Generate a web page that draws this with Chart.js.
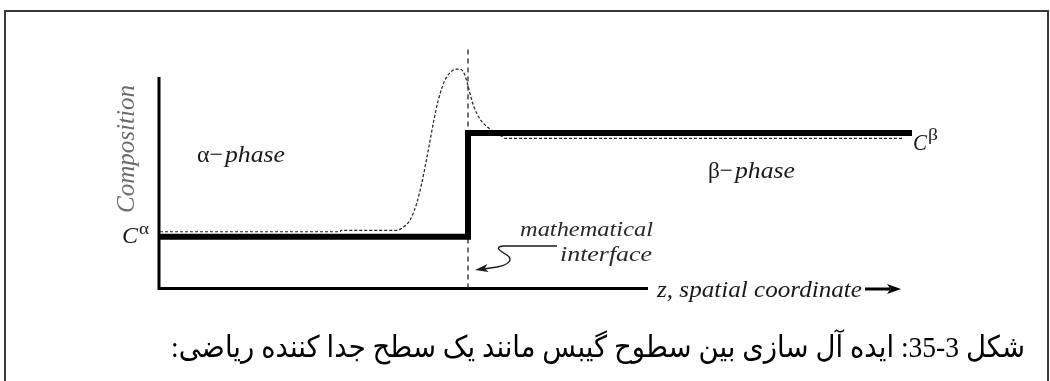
<!DOCTYPE html>
<html lang="fa">
<head>
  <meta charset="UTF-8" />
  <title>Composition profile across a mathematical interface</title>
  <script src="https://cdn.jsdelivr.net/npm/chart.js@4.4.0/dist/chart.umd.min.js"></script>
  <style>
    html, body { margin: 0; padding: 0; background: #fff; }
    #wrap { position: relative; width: 1050px; height: 381px; }
  </style>
</head>
<body>
  <div id="wrap"><canvas id="profile"></canvas></div>
  <script>
    // real composition profile (dashed): z = spatial coordinate, c = composition
    const zProfile = [-3.08, -1.28, -1.27, -0.71, -0.663, -0.58, -0.513, -0.463, -0.397, -0.347,
                      -0.297, -0.23, -0.147, -0.097, -0.047, 0.003, 0.037, 0.087, 0.153, 0.22,
                      0.29, 0.35, 0.37, 4.35];
    const cProfile = [1.048, 1.048, 1.062, 1.062, 1.081, 1.161, 1.322, 1.515, 1.836, 2.094,
                      2.318, 2.511, 2.607, 2.617, 2.591, 2.446, 2.318, 2.19, 2.094, 2.039,
                      2.0, 1.961, 1.949, 1.949];

    // idealised step profile: C-alpha on the left, C-beta on the right
    const zStep = [-3.1, 0, 0, 4.44];
    const cStep = [1, 1, 2, 2];

    // the mathematical interface sits at z = 0
    const zInterface = [0, 0];
    const cInterface = [0.5, 2.81];

    // axis extents (composition axis top, z axis end)
    const zRange = [-3.09, 4.44];
    const cRange = [0.5, 2.9];
    const cAxisTop = 2.54;
    const zAxisEnd = 1.8;

    const caption = 'شکل 3-35: ایده آل سازی بین سطوح گیبس مانند یک سطح جدا کننده ریاضی:';

    const pts = (xs, ys) => xs.map((x, i) => ({ x: x, y: ys[i] }));

    const serif = '"Liberation Serif", serif';

    // draw a string squeezed/stretched to a given width
    function fitText(ctx, s, x, y, w, font, color, align) {
      ctx.save();
      ctx.font = font;
      ctx.fillStyle = color;
      ctx.textBaseline = 'alphabetic';
      ctx.textAlign = align || 'left';
      const m = ctx.measureText(s).width;
      ctx.translate(x, y);
      ctx.scale(w ? w / m : 1, 1);
      ctx.fillText(s, 0, 0);
      ctx.restore();
    }

    function arrowHead(ctx, tipX, tipY, backX, backY, half) {
      const a = Math.atan2(tipY - backY, tipX - backX);
      const len = Math.hypot(tipX - backX, tipY - backY);
      ctx.save();
      ctx.translate(tipX, tipY);
      ctx.rotate(a);
      ctx.beginPath();
      ctx.moveTo(0, 0);
      ctx.lineTo(-len, -half);
      ctx.lineTo(-len * 0.75, 0);
      ctx.lineTo(-len, half);
      ctx.closePath();
      ctx.fill();
      ctx.restore();
    }

    const decor = {
      id: 'decor',
      beforeDatasetsDraw(chart) {
        const ctx = chart.ctx;
        const xs = chart.scales.x, ys = chart.scales.y;
        const x0 = xs.getPixelForValue(zRange[0]);
        const yb = ys.getPixelForValue(cRange[0]);

        // page frame
        ctx.save();
        ctx.strokeStyle = '#3a3a3a';
        ctx.lineWidth = 2;
        ctx.beginPath();
        ctx.moveTo(5, 400);
        ctx.lineTo(5, 11);
        ctx.lineTo(1048, 11);
        ctx.lineTo(1048, 400);
        ctx.stroke();

        // axes
        ctx.strokeStyle = '#000';
        ctx.lineWidth = 3;
        ctx.lineCap = 'butt';
        ctx.beginPath();
        ctx.moveTo(x0, ys.getPixelForValue(cAxisTop));
        ctx.lineTo(x0, yb);
        ctx.lineTo(xs.getPixelForValue(zAxisEnd), yb);
        ctx.stroke();
        ctx.restore();
      },
      afterDatasetsDraw(chart) {
        const ctx = chart.ctx;
        const ink = '#1a1a1a';

        // y axis title
        ctx.save();
        ctx.translate(134, 149);
        ctx.rotate(-Math.PI / 2);
        fitText(ctx, 'Composition', 0, 0, 128, 'italic 26px ' + serif, '#6b6b6b', 'center');
        ctx.restore();

        // phase labels
        fitText(ctx, 'α−', 197, 162, 26, '24px ' + serif, ink);
        fitText(ctx, 'phase', 225, 162, 60, 'italic 24px ' + serif, ink);
        fitText(ctx, 'β−', 708, 178, 25, '24px ' + serif, ink);
        fitText(ctx, 'phase', 735, 178, 60, 'italic 24px ' + serif, ink);

        // C-alpha / C-beta
        fitText(ctx, 'C', 122, 243, 16, 'italic 23px ' + serif, ink);
        fitText(ctx, 'α', 139, 234, 10, '16px ' + serif, ink);
        fitText(ctx, 'C', 913, 150, 14, 'italic 23px ' + serif, ink);
        fitText(ctx, 'β', 928, 140, 10, '16px ' + serif, ink);

        // interface note with curly pointer
        fitText(ctx, 'mathematical', 653, 236, 133, 'italic 22px ' + serif, '#2a2a2a', 'right');
        fitText(ctx, 'interface', 652, 261, 92, 'italic 22px ' + serif, '#2a2a2a', 'right');
        ctx.save();
        ctx.strokeStyle = ink;
        ctx.fillStyle = ink;
        ctx.lineWidth = 1.4;
        ctx.beginPath();
        ctx.moveTo(557, 246);
        ctx.lineTo(503, 246);
        ctx.bezierCurveTo(494, 247, 500, 251, 507, 255);
        ctx.bezierCurveTo(514, 260, 508, 265, 497, 267);
        ctx.lineTo(484, 269);
        ctx.stroke();
        arrowHead(ctx, 475, 270, 488, 268, 4);
        ctx.restore();

        // z axis title and arrow
        fitText(ctx, 'z, spatial coordinate', 657, 297, 205, 'italic 24px ' + serif, ink);
        ctx.save();
        ctx.strokeStyle = '#000';
        ctx.fillStyle = '#000';
        ctx.lineWidth = 3;
        ctx.beginPath();
        ctx.moveTo(865, 289);
        ctx.lineTo(890, 289);
        ctx.stroke();
        arrowHead(ctx, 901, 289, 887, 289, 5);
        ctx.restore();

        // figure caption (right to left)
        ctx.save();
        ctx.direction = 'rtl';
        fitText(ctx, caption, 1025, 357, 854, '30px "Liberation Serif", "DejaVu Sans", serif', '#000', 'right');
        ctx.restore();
      }
    };

    new Chart(document.getElementById('profile'), {
      type: 'scatter',
      data: {
        datasets: [
          {
            label: 'step',
            data: pts(zStep, cStep),
            showLine: true,
            borderColor: '#000',
            borderWidth: 6,
            borderJoinStyle: 'miter',
            borderCapStyle: 'butt',
            pointRadius: 0,
            order: 0
          },
          {
            label: 'profile',
            data: pts(zProfile, cProfile),
            showLine: true,
            borderColor: '#222',
            borderWidth: 1.2,
            borderDash: [3, 2],
            cubicInterpolationMode: 'monotone',
            pointRadius: 0,
            order: 1
          },
          {
            label: 'interface',
            data: pts(zInterface, cInterface),
            showLine: true,
            borderColor: '#222',
            borderWidth: 1.3,
            borderDash: [5, 4],
            pointRadius: 0,
            order: 2
          }
        ]
      },
      options: {
        responsive: true,
        maintainAspectRatio: false,
        animation: false,
        events: [],
        layout: { padding: { left: 159, right: 138, top: 39.7, bottom: 92.45 } },
        plugins: { legend: { display: false }, tooltip: { enabled: false } },
        scales: {
          x: { type: 'linear', min: zRange[0], max: zRange[1], display: false },
          y: { type: 'linear', min: cRange[0], max: cRange[1], display: false }
        }
      },
      plugins: [decor]
    });
  </script>
</body>
</html>
